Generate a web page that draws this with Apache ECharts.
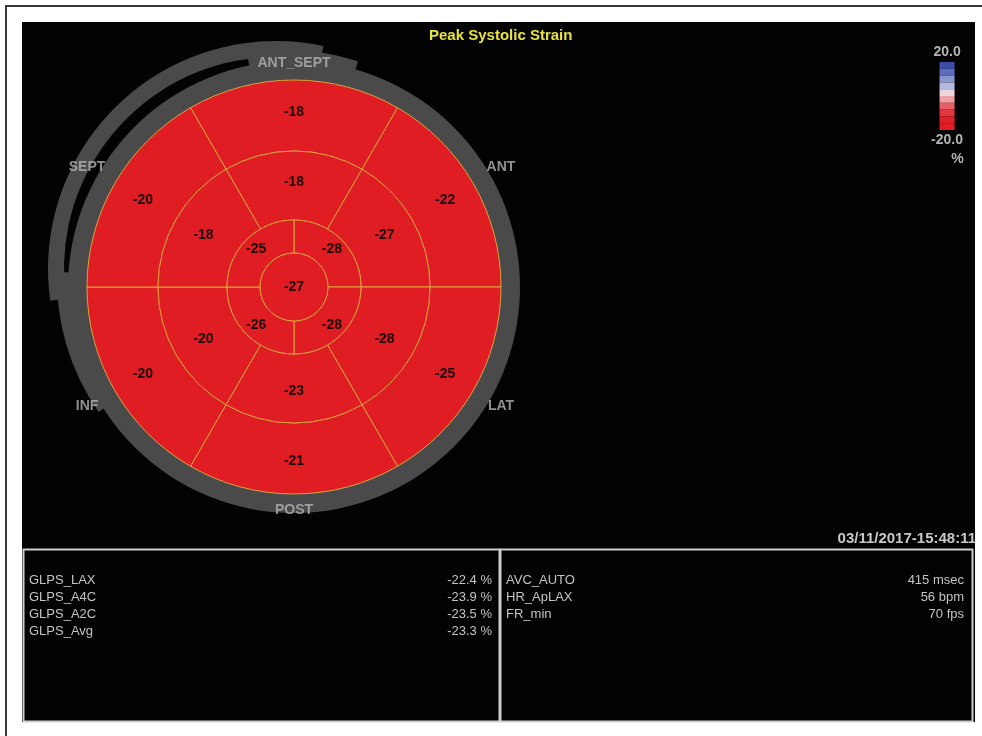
<!DOCTYPE html>
<html>
<head>
<meta charset="utf-8">
<script src="https://cdn.jsdelivr.net/npm/echarts@6/dist/echarts.min.js"></script>
<style>
html,body{margin:0;padding:0;background:#fff;}
#chart{width:982px;height:736px;}
</style>
</head>
<body>
<div id="chart"></div>
<script>
// ---------------- data ----------------
const chartTitle = 'Peak Systolic Strain';
const timestamp = '03/11/2017-15:48:11';

const wallNames  = ['ANT_SEPT', 'ANT', 'LAT', 'POST', 'INF', 'SEPT'];
const wallAngles = [90, 30, 330, 270, 210, 150];

// clockwise from the top segment
const basalSegments = ['Basal Ant-Sept', 'Basal Ant', 'Basal Lat', 'Basal Post', 'Basal Inf', 'Basal Sept'];
const basalStrain   = [-18, -22, -25, -21, -20, -20];
const midSegments   = ['Mid Ant-Sept', 'Mid Ant', 'Mid Lat', 'Mid Post', 'Mid Inf', 'Mid Sept'];
const midStrain     = [-18, -27, -28, -23, -20, -18];
// clockwise from 12 o'clock
const apicalSegments = ['Apical Ant', 'Apical Lat', 'Apical Inf', 'Apical Sept'];
const apicalStrain   = [-28, -28, -26, -25];
const apexSegments   = ['Apex'];
const apexStrain     = [-27];

const scaleMin = -20, scaleMax = 20, scaleStep = 4;
const scaleTickLabels = ['20.0', '-20.0'];
const scaleUnit = '%';
// colour bands from scaleMin upward
const bandColors = ['#e11d24', '#e11f26', '#e3353c', '#e95d64', '#f0a0a7', '#ecd6dc', '#b4b8e0', '#8a96cf', '#5b6cba', '#3a4ca6'];

const glpsLabels = ['GLPS_LAX', 'GLPS_A4C', 'GLPS_A2C', 'GLPS_Avg'];
const glpsValues = [-22.4, -23.9, -23.5, -23.3];
const glpsUnit = '%';
const measureLabels = ['AVC_AUTO', 'HR_ApLAX', 'FR_min'];
const measureValues = [415, 56, 70];
const measureUnits  = ['msec', 'bpm', 'fps'];

// ---------------- layout ----------------
const C = [294, 287];
const R = { apex: 34, apical: 67, mid: 136, basal: 207 };
const FONT = 'Liberation Sans, Arial, Helvetica, sans-serif';
const segRed = bandColors[0];
const lineCol = '#dca33c';
const grey = '#4a4a4a';
const clear = 'rgba(0,0,0,0)';

const rows = (names, vals) => names.map((n, i) => [n, 1, vals[i]]);

const pieces = bandColors.map((c, i) => ({
  min: scaleMin + i * scaleStep,
  max: scaleMin + (i + 1) * scaleStep,
  color: c
}));

const segLabel = {
  show: true,
  position: 'inside',
  formatter: p => String(p.value[2]),
  color: '#1c0808',
  fontSize: 14,
  fontWeight: 'bold',
  fontFamily: FONT
};

function ringSeries(dsIndex, radius, startAngle, labelPos) {
  return {
    type: 'pie',
    datasetIndex: dsIndex,
    encode: { itemName: 0, value: 1 },
    center: C,
    radius: radius,
    startAngle: startAngle,
    clockwise: true,
    silent: true,
    avoidLabelOverlap: false,
    itemStyle: { borderColor: lineCol, borderWidth: 1 },
    label: Object.assign({}, segLabel, labelPos ? { position: labelPos } : {}),
    labelLine: { show: false },
    emphasis: { disabled: true },
    z: 3
  };
}

// decorative grey wall band: list of [spanDeg, visible]
function wallBand(center, radius, startAngle, spans) {
  return {
    type: 'pie', center: center, radius: radius, startAngle: startAngle, clockwise: true,
    silent: true, label: { show: false }, labelLine: { show: false }, emphasis: { disabled: true }, z: 1,
    data: spans.map(s => ({ value: s[0], itemStyle: { color: s[1] ? grey : clear } }))
  };
}

const wallLabelRadius = a => (a === 90 || a === 270) ? 223.5 : 239;

const graphics = [];
graphics.push({ type: 'rect', z: -10, shape: { x: 6, y: 6, width: 990, height: 760 },
  style: { fill: 'none', stroke: '#3a3a3a', lineWidth: 2 } });
graphics.push({ type: 'rect', z: -9, shape: { x: 22, y: 22, width: 953, height: 700 },
  style: { fill: '#030303' } });
graphics.push({ type: 'rect', z: 1, shape: { x: 23.5, y: 549.5, width: 476, height: 172 },
  style: { fill: 'none', stroke: '#cfcfcf', lineWidth: 2 } });
graphics.push({ type: 'rect', z: 1, shape: { x: 500.5, y: 549.5, width: 472, height: 172 },
  style: { fill: 'none', stroke: '#cfcfcf', lineWidth: 2 } });

const tblFont = '13px ' + FONT;
const tblCol = '#c4c4c4';
const rowY0 = 580, rowDY = 17.2;
glpsLabels.forEach((n, i) => {
  graphics.push({ type: 'text', z: 5, x: 29, y: rowY0 + i * rowDY,
    style: { text: n, fill: tblCol, font: tblFont, align: 'left', verticalAlign: 'middle' } });
  graphics.push({ type: 'text', z: 5, x: 492, y: rowY0 + i * rowDY,
    style: { text: glpsValues[i].toFixed(1) + ' ' + glpsUnit, fill: tblCol, font: tblFont, align: 'right', verticalAlign: 'middle' } });
});
measureLabels.forEach((n, i) => {
  graphics.push({ type: 'text', z: 5, x: 506, y: rowY0 + i * rowDY,
    style: { text: n, fill: tblCol, font: tblFont, align: 'left', verticalAlign: 'middle' } });
  graphics.push({ type: 'text', z: 5, x: 964, y: rowY0 + i * rowDY,
    style: { text: measureValues[i] + ' ' + measureUnits[i], fill: tblCol, font: tblFont, align: 'right', verticalAlign: 'middle' } });
});
graphics.push({ type: 'text', z: 5, x: 976, y: 539,
  style: { text: timestamp, fill: '#c8c8c8', font: 'bold 15px ' + FONT, align: 'right', verticalAlign: 'middle' } });
graphics.push({ type: 'text', z: 5, x: 957.5, y: 159,
  style: { text: scaleUnit, fill: '#b4b4b4', font: 'bold 14px ' + FONT, align: 'center', verticalAlign: 'middle' } });

const option = {
  backgroundColor: '#ffffff',
  animation: false,
  title: {
    text: chartTitle,
    left: 429, top: 28, padding: 0,
    textStyle: { color: '#e8e23c', fontSize: 15, fontWeight: 'bold', fontFamily: FONT }
  },
  dataset: [
    { source: rows(basalSegments, basalStrain) },
    { source: rows(midSegments, midStrain) },
    { source: rows(apicalSegments, apicalStrain) },
    { source: rows(apexSegments, apexStrain) }
  ],
  visualMap: {
    type: 'piecewise',
    pieces: pieces,
    dimension: 2,
    seriesIndex: [3, 4, 5, 6],
    orient: 'vertical',
    right: 4, top: 27,
    itemWidth: 15, itemHeight: 6.8, itemGap: 0,
    itemSymbol: 'rect',
    showLabel: false,
    text: scaleTickLabels,
    textStyle: { color: '#b4b4b4', fontSize: 14, fontWeight: 'bold', fontFamily: FONT, lineHeight: 20 },
    outOfRange: { color: segRed },
    selectedMode: false,
    hoverLink: false
  },
  polar: { center: C, radius: 250 },
  radiusAxis: { type: 'value', min: 0, max: 250, show: false },
  angleAxis: { type: 'value', min: 0, max: 360, startAngle: 0, clockwise: false, show: false },
  graphic: { elements: graphics },
  series: [
    wallBand([276, 269], [212, 228], 188, [[110, true], [250, false]]),
    wallBand([287, 280], [208, 230], 215, [[37, true], [78, false], [28, true], [217, false]]),
    wallBand(C, [205, 226], 90, [[360, true]]),
    ringSeries(0, [R.mid, R.basal], 120),
    ringSeries(1, [R.apical, R.mid], 120),
    ringSeries(2, [R.apex, R.apical], 90),
    ringSeries(3, [0, R.apex], 90, 'center'),
    {
      type: 'scatter', coordinateSystem: 'polar', silent: true, z: 6,
      symbolSize: 1, itemStyle: { color: clear },
      data: wallNames.map((n, i) => ({ name: n, value: [wallLabelRadius(wallAngles[i]), wallAngles[i]] })),
      label: { show: true, position: 'inside', formatter: '{b}', color: '#b4b4b4', fontSize: 14, fontWeight: 'bold', fontFamily: FONT }
    }
  ]
};

const chart = echarts.init(document.getElementById('chart'), null, { renderer: 'canvas' });
chart.setOption(option);
</script>
</body>
</html>
